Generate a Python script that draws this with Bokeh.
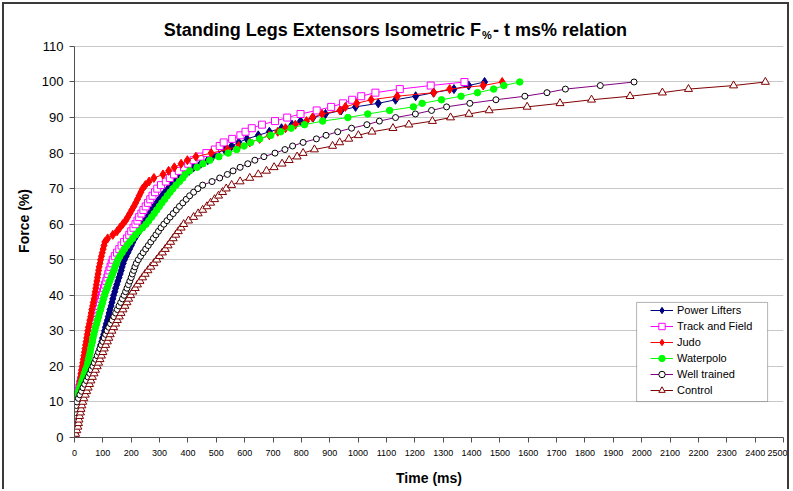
from bokeh.plotting import figure
from bokeh.models import Range1d, FixedTicker, Legend, LegendItem, Label, BoxAnnotation
from bokeh.embed import file_html
from bokeh.resources import INLINE

# Force levels (%) at which time (ms) was read for every group
force = list(range(0, 101))

power_lifters = [0, 2, 4, 6, 8, 11, 13, 15, 18, 21, 24,
                 28, 33, 37, 42, 47, 52, 57, 61, 66, 71,
                 75, 78, 82, 85, 89, 92, 96, 99, 103, 106,
                 109, 112, 116, 119, 122, 125, 129, 132, 135, 138,
                 142, 145, 149, 153, 157, 161, 165, 168, 172, 176,
                 182, 188, 194, 200, 206, 212, 220, 228, 234, 241,
                 249, 257, 265, 273, 281, 290, 299, 309, 319, 330,
                 342, 356, 371, 388, 404, 420, 445, 470, 487, 503,
                 529, 554, 579, 608, 648, 687, 730, 767, 797, 841,
                 885, 940, 991, 1071, 1132, 1203, 1266, 1338, 1390, 1446]

track_field = [0, 1, 1, 2, 2, 3, 3, 4, 4, 5, 6,
               8, 11, 14, 17, 20, 23, 26, 29, 32, 35,
               38, 41, 44, 47, 50, 53, 56, 59, 62, 65,
               68, 71, 74, 78, 81, 84, 87, 90, 94, 97,
               100, 104, 108, 112, 116, 119, 123, 127, 131, 135,
               142, 150, 158, 166, 175, 185, 193, 200, 208, 215,
               222, 228, 236, 243, 251, 259, 267, 275, 284, 292,
               305, 322, 336, 351, 368, 386, 401, 420, 444, 465,
               495, 512, 526, 556, 585, 603, 625, 661, 707, 750,
               797, 854, 905, 947, 979, 1011, 1061, 1147, 1256, 1375]

judo = [0, 1, 3, 4, 5, 6, 7, 8, 9, 10, 11,
        12, 14, 15, 17, 18, 20, 22, 23, 25, 27,
        29, 31, 33, 35, 37, 39, 41, 43, 45, 47,
        49, 52, 54, 57, 59, 61, 64, 66, 69, 71,
        73, 75, 77, 79, 81, 83, 85, 87, 90, 92,
        95, 98, 101, 104, 107, 117, 135, 150, 160, 170,
        180, 188, 195, 202, 209, 216, 222, 228, 234, 240,
        250, 263, 280, 312, 332, 352, 376, 398, 428, 482,
        539, 579, 618, 653, 687, 717, 744, 779, 818, 839,
        873, 936, 955, 995, 1046, 1138, 1267, 1323, 1441, 1508]

waterpolo = [0, 1, 1, 1, 2, 2, 2, 3, 3, 4, 5,
             8, 11, 15, 19, 23, 27, 31, 35, 39, 44,
             47, 49, 52, 55, 57, 60, 63, 65, 68, 71,
             74, 78, 81, 85, 88, 92, 95, 99, 102, 106,
             110, 115, 119, 124, 129, 134, 139, 143, 148, 153,
             160, 168, 176, 185, 195, 205, 215, 227, 240, 252,
             262, 272, 281, 290, 299, 308, 318, 327, 337, 347,
             358, 370, 382, 390, 406, 432, 453, 477, 509, 542,
             572, 598, 621, 653, 692, 727, 764, 811, 875, 964,
             1034, 1111, 1195, 1226, 1294, 1363, 1421, 1478, 1514, 1570]

well_trained = [0, 1, 1, 2, 2, 3, 3, 4, 5, 7, 9,
                14, 19, 25, 30, 36, 42, 48, 54, 59, 65,
                70, 75, 80, 85, 90, 95, 100, 105, 110, 115,
                121, 127, 133, 139, 145, 151, 157, 163, 169, 175,
                180, 185, 190, 195, 200, 204, 209, 213, 218, 225,
                233, 242, 251, 260, 269, 278, 287, 296, 305, 315,
                326, 337, 348, 359, 370, 382, 394, 406, 420, 435,
                452, 485, 512, 539, 559, 584, 611, 636, 668, 707,
                742, 769, 806, 853, 887, 928, 977, 1031, 1075, 1132,
                1202, 1259, 1312, 1394, 1486, 1588, 1666, 1731, 1854, 1973]

control = [0, 4, 8, 12, 14, 16, 18, 21, 23, 26, 29,
           33, 38, 43, 48, 53, 58, 63, 69, 74, 80,
           85, 90, 95, 100, 105, 110, 116, 121, 126, 132,
           138, 145, 151, 158, 164, 171, 178, 185, 191, 198,
           206, 214, 222, 231, 240, 249, 259, 269, 280, 290,
           300, 310, 320, 330, 339, 348, 357, 366, 376, 385,
           402, 420, 436, 452, 467, 480, 494, 508, 522, 535,
           554, 584, 618, 648, 677, 704, 732, 757, 785, 806,
           846, 910, 935, 967, 1001, 1049, 1123, 1179, 1262, 1326,
           1391, 1462, 1596, 1712, 1823, 1959, 2073, 2165, 2324, 2436]

x_ticks = list(range(0, 2501, 100))
y_ticks = list(range(0, 111, 10))

FONT = "Liberation Sans"

# the frame reaches up to the top of the canvas so the title can sit inside it
p = figure(width=787, height=487, output_backend="svg", toolbar_location=None,
           x_range=Range1d(0, 2500), y_range=Range1d(0, 121.8),
           min_border_left=70, min_border_right=8, min_border_top=0,
           min_border_bottom=54, title_location=None)
p.styles = {"margin-left": "2px", "margin-top": "2px",
            "border-top": "2px solid #3a3a3a", "border-left": "2px solid #3a3a3a",
            "border-right": "2px solid #3a3a3a"}
p.outline_line_color = None
p.background_fill_color = "white"
p.border_fill_color = "white"

p.xgrid.visible = False
p.ygrid.grid_line_color = "#c8c8c8"
p.ygrid.grid_line_width = 1

p.xaxis.ticker = FixedTicker(ticks=x_ticks)
p.yaxis.ticker = FixedTicker(ticks=y_ticks)
p.yaxis.bounds = (0, 110)
for ax in (p.xaxis[0], p.yaxis[0]):
    ax.axis_line_color = "#505050"
    ax.major_tick_line_color = "#505050"
    ax.major_tick_in = 0
    ax.major_tick_out = 5
    ax.minor_tick_line_color = None
    ax.major_label_text_font = FONT
    ax.major_label_text_color = "black"
    ax.axis_label_text_font = FONT
    ax.axis_label_text_font_style = "bold"
    ax.axis_label_text_font_size = "14px"
    ax.axis_label_text_color = "black"
p.xaxis.major_label_text_font_size = "9px"
p.yaxis.major_label_text_font_size = "13px"
p.xaxis.major_label_standoff = 7
p.yaxis.major_label_standoff = 6
p.xaxis.axis_label = "Time (ms)"
p.yaxis.axis_label = "Force (%)"
p.xaxis.axis_label_standoff = 11
p.yaxis.axis_label_standoff = 7

series = [
    ("Power Lifters", power_lifters, "#000080", "diamond", 9, "#000080", "#000080"),
    ("Track and Field", track_field, "#FF00FF", "square", 7, "#FF00FF", "white"),
    ("Judo", judo, "#FF0000", "diamond", 9, "#FF0000", "#FF0000"),
    ("Waterpolo", waterpolo, "#00FF00", "circle", 6.5, "#00FF00", "#00FF00"),
    ("Well trained", well_trained, "#800080", "circle", 6, "#000000", "white"),
    ("Control", control, "#800000", "triangle", 8, "#800000", "white"),
]

items = []
for name, times, lc, marker, size, mlc, mfc in series:
    r1 = p.line(times, force, line_color=lc, line_width=1)
    r2 = p.scatter(times, force, marker=marker, size=size, line_color=mlc,
                   fill_color=mfc, line_width=1)
    items.append(LegendItem(label=name, renderers=[r1, r2]))

# legend frame
p.add_layout(BoxAnnotation(left=1982, right=2444, bottom=10.1, top=38.0,
                           fill_color="white", fill_alpha=1.0,
                           line_color="black", line_width=1))

legend = Legend(items=items, location=(575, 38), padding=1, spacing=0,
                glyph_width=23, glyph_height=16, label_height=16,
                label_standoff=4, margin=0,
                label_text_font=FONT, label_text_font_size="11px",
                label_text_color="black",
                border_line_alpha=0, background_fill_alpha=0)
p.add_layout(legend, "center")

# title with subscript
p.add_layout(Label(x=1433, y=114.5,
                   text="Standing Legs Extensors Isometric F", text_align="right",
                   text_baseline="middle", text_font=FONT, text_font_size="18px",
                   text_font_style="bold", text_color="black"))
p.add_layout(Label(x=1437, y=113.1,
                   text="%", text_align="left", text_baseline="middle",
                   text_font=FONT, text_font_size="11px", text_font_style="bold",
                   text_color="black"))
p.add_layout(Label(x=1476, y=114.5,
                   text="- t ms% relation", text_align="left",
                   text_baseline="middle", text_font=FONT, text_font_size="18px",
                   text_font_style="bold", text_color="black"))

open("out.html", "w").write(file_html(p, INLINE))
